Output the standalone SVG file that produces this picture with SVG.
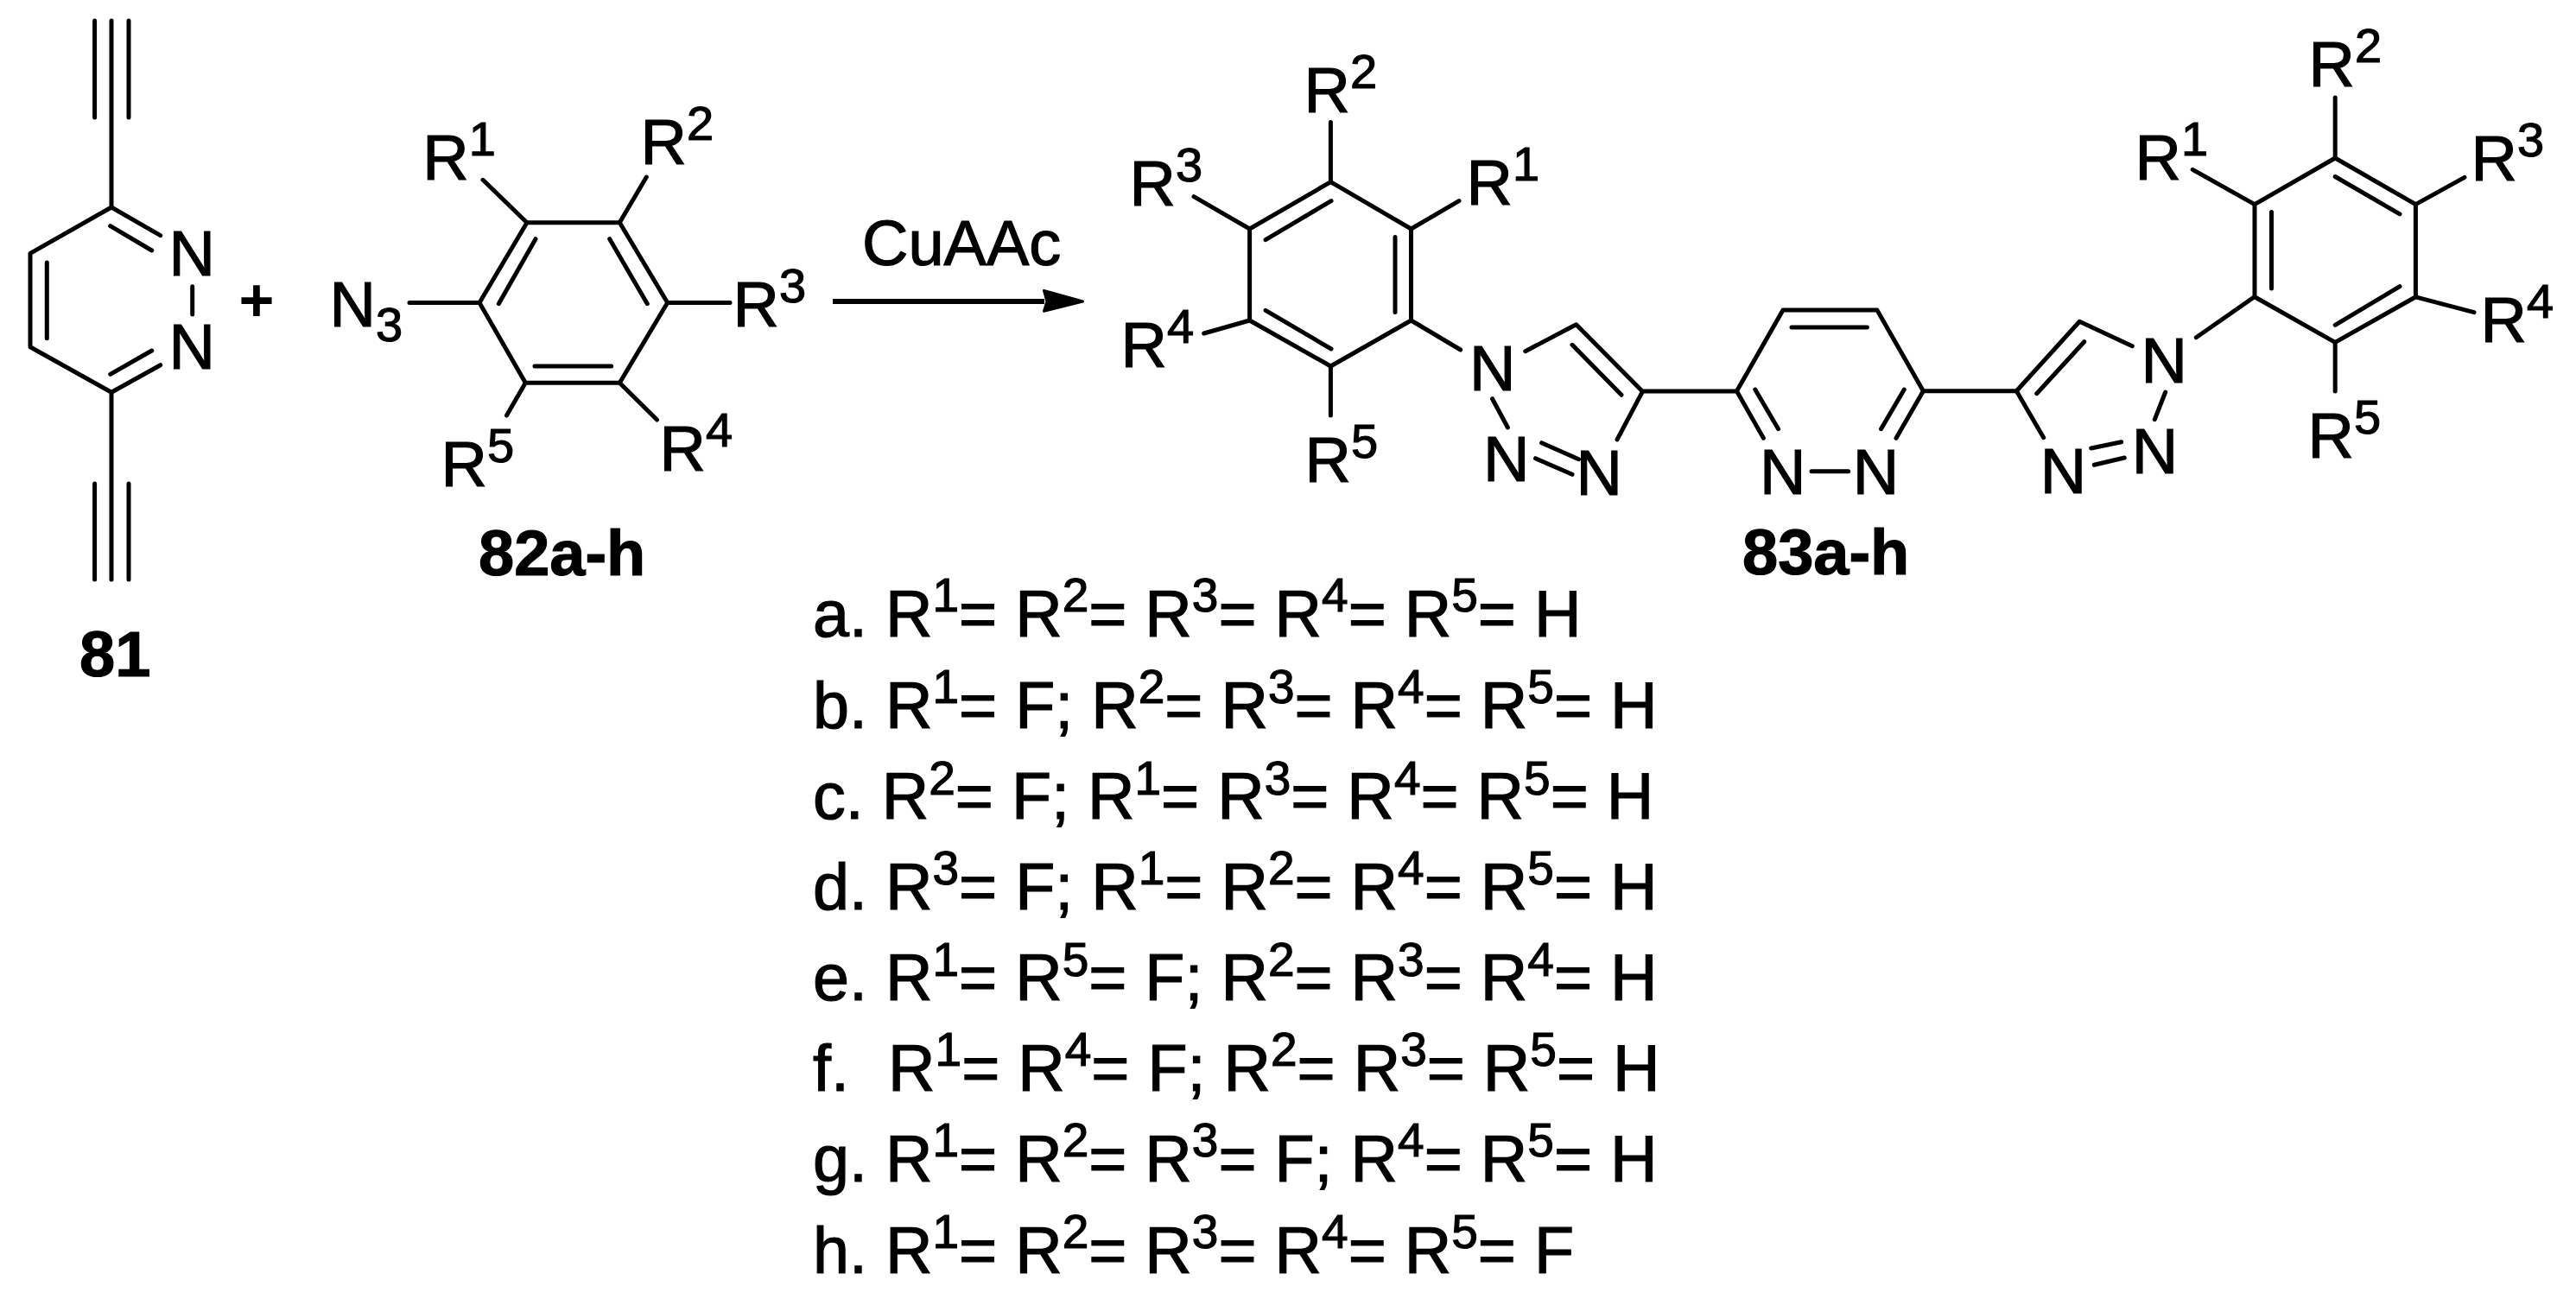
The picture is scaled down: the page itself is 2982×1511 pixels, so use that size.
<svg xmlns="http://www.w3.org/2000/svg" width="2982" height="1511" viewBox="0 0 2982 1511">
<style>
text{font-family:"Liberation Sans",Arial,sans-serif;fill:#000;stroke:#000;stroke-width:1.200}
.a{font-size:74px}
.s{font-size:56px}
.b{font-size:74px;font-weight:700}
.l{font-size:75.500px}
.u{font-size:55px}
.p{font-size:70px;font-weight:700;stroke-width:0}
path{fill:none;stroke:#000;stroke-width:5;stroke-linecap:round;stroke-linejoin:round}
.arrow{stroke-width:6;stroke-linecap:butt}
.head{fill:#000;stroke:#000;stroke-width:3}
</style>
<defs>
<marker id="ah" markerUnits="userSpaceOnUse" markerWidth="50" markerHeight="32" refX="2" refY="16" orient="auto"><path class="head" d="M1.500 3.500L46.500 16L1.500 27.200L5 16Z"/></marker>
</defs>
<rect width="2982" height="1511" fill="#fff"/>
<g id="compound-81">
<path d="M109.600 24V136M129 24V136M149 24V136M129 136V240L35 293.300V401.700L129 454.300V560M109.600 560V671M129 560V671M149 560V671"/>
<path d="M129 240L185.700 272.700M127.700 261.700L175.700 290M54.300 304V391.700M129 454.300L185.700 422.700M127.700 433.300L175.700 406M222.700 331.700V364"/>
<text class="a" x="195.500" y="319.300">N</text>
<text class="a" x="195.500" y="427">N</text>
<text class="b" x="92" y="783">81</text>
</g>
<g id="plus"><text class="p" x="297" y="371.500" text-anchor="middle">+</text></g>
<g id="compound-82">
<path d="M474 350.500H555L610 257.700H717.300L772.700 350.500L717.300 443.300H608.300L555 350.500"/>
<path d="M620 276.700L577.300 351.700M705.700 276.700L749.300 351.700M619 424H707.700M559 208.300L610 257.700M748.300 205L717.300 257.700M772.700 350.500H845M717.300 443.300L760.500 486M608.300 443.300L586.500 481"/>
<text class="a" x="381.500" y="377.500">N<tspan class="s" dy="17">3</tspan></text>
<text class="a" x="489.200" y="207.700">R<tspan class="s" dy="-28">1</tspan></text>
<text class="a" x="741.500" y="190">R<tspan class="s" dy="-28">2</tspan></text>
<text class="a" x="848.500" y="377.500">R<tspan class="s" dy="-28">3</tspan></text>
<text class="a" x="763.500" y="545">R<tspan class="s" dy="-28">4</tspan></text>
<text class="a" x="510.500" y="562.500">R<tspan class="s" dy="-28">5</tspan></text>
<text class="b" x="554" y="666">82a-h</text>
</g>
<g id="connectors">
<path class="arrow" d="M964 349H1209" marker-end="url(#ah)"/>
<text class="a" x="998" y="307">CuAAc</text>
</g>
<g id="compound-83">
<path d="M1540.400 210.700L1633.500 265V371L1540.400 424L1446.600 371V265Z"/>
<path d="M1615 274.500V361.600M1541 232.600L1465 277.700M1541 404L1465 359.400M1540.400 210.700V141.500M1633.500 265L1689 232.600M1446.600 265L1382 227.700M1446.600 371L1393.700 386M1540.400 424V481M1633.500 371L1690.700 405"/>
<path d="M1765.700 406.700L1824.600 375.700L1901.400 453.300L1872 509M1820 399.300L1877 457.300M1727.500 461.700L1745.400 495M1784.600 512.700L1827.500 531.700M1777.500 530.700L1820 549.300"/>
<path d="M1901.400 453H2010.400L2064 359H2172.900L2226.400 452.700L2195 507.300M2010.400 452.700L2041.400 507.300M2031.800 451L2058.600 496.700M2204.300 451L2177.500 496.700M2074 379H2161.400M2097 545.700H2139.600M2226.400 452.700H2334.300"/>
<path d="M2365.700 506.700L2334.300 452.700L2407.300 372.300L2468.300 400.700M2357.700 455.700L2412.700 395.700M2506.700 454L2494.300 485.700M2420.700 519L2455.700 511.700M2424.300 538.300L2459.300 530M2542.300 390.700L2610 343.500"/>
<path d="M2610 343.800V236.600L2703.200 183L2796.400 236.600V343.800L2703.200 396.400Z"/>
<path d="M2629.500 245.500V334M2703.200 204.500L2778 247.800M2703.200 376.300L2778 331.700M2703.200 183V113M2610 236.600L2538.200 196.400M2796.400 236.600L2853 205.400M2796.400 343.800L2864 361.600M2703.200 396.400V453"/>
<text class="a" x="1509.500" y="129.500">R<tspan class="s" dy="-28">2</tspan></text>
<text class="a" x="1697.500" y="236.600">R<tspan class="s" dy="-28">1</tspan></text>
<text class="a" x="1307.500" y="237.500">R<tspan class="s" dy="-28">3</tspan></text>
<text class="a" x="1297.500" y="425.400">R<tspan class="s" dy="-28">4</tspan></text>
<text class="a" x="1510.500" y="558">R<tspan class="s" dy="-28">5</tspan></text>
<text class="a" x="1701" y="451.700">N</text>
<text class="a" x="1717" y="557.300">N</text>
<text class="a" x="1824.400" y="573.300">N</text>
<text class="a" x="2037" y="571.700">N</text>
<text class="a" x="2144.800" y="571.700">N</text>
<text class="a" x="2478.400" y="442.700">N</text>
<text class="a" x="2467.700" y="548.300">N</text>
<text class="a" x="2361.700" y="571">N</text>
<text class="a" x="2672.500" y="100.400">R<tspan class="s" dy="-28">2</tspan></text>
<text class="a" x="2471.500" y="207.600">R<tspan class="s" dy="-28">1</tspan></text>
<text class="a" x="2860.500" y="209">R<tspan class="s" dy="-28">3</tspan></text>
<text class="a" x="2871.500" y="396.400">R<tspan class="s" dy="-28">4</tspan></text>
<text class="a" x="2671.500" y="530">R<tspan class="s" dy="-28">5</tspan></text>
<text class="b" x="2017" y="665">83a-h</text>
</g>
<g id="substituent-list">
<text class="l" x="941" y="736.700">a. R<tspan class="u" dy="-28.700">1</tspan><tspan dy="28.700">= R</tspan><tspan class="u" dy="-28.700">2</tspan><tspan dy="28.700">= R</tspan><tspan class="u" dy="-28.700">3</tspan><tspan dy="28.700">= R</tspan><tspan class="u" dy="-28.700">4</tspan><tspan dy="28.700">= R</tspan><tspan class="u" dy="-28.700">5</tspan><tspan dy="28.700">= H</tspan></text>
<text class="l" x="941" y="842.700">b. R<tspan class="u" dy="-28.700">1</tspan><tspan dy="28.700">= F; R</tspan><tspan class="u" dy="-28.700">2</tspan><tspan dy="28.700">= R</tspan><tspan class="u" dy="-28.700">3</tspan><tspan dy="28.700">= R</tspan><tspan class="u" dy="-28.700">4</tspan><tspan dy="28.700">= R</tspan><tspan class="u" dy="-28.700">5</tspan><tspan dy="28.700">= H</tspan></text>
<text class="l" x="941" y="948.300">c. R<tspan class="u" dy="-28.700">2</tspan><tspan dy="28.700">= F; R</tspan><tspan class="u" dy="-28.700">1</tspan><tspan dy="28.700">= R</tspan><tspan class="u" dy="-28.700">3</tspan><tspan dy="28.700">= R</tspan><tspan class="u" dy="-28.700">4</tspan><tspan dy="28.700">= R</tspan><tspan class="u" dy="-28.700">5</tspan><tspan dy="28.700">= H</tspan></text>
<text class="l" x="941" y="1052.500">d. R<tspan class="u" dy="-28.700">3</tspan><tspan dy="28.700">= F; R</tspan><tspan class="u" dy="-28.700">1</tspan><tspan dy="28.700">= R</tspan><tspan class="u" dy="-28.700">2</tspan><tspan dy="28.700">= R</tspan><tspan class="u" dy="-28.700">4</tspan><tspan dy="28.700">= R</tspan><tspan class="u" dy="-28.700">5</tspan><tspan dy="28.700">= H</tspan></text>
<text class="l" x="941" y="1158.300">e. R<tspan class="u" dy="-28.700">1</tspan><tspan dy="28.700">= R</tspan><tspan class="u" dy="-28.700">5</tspan><tspan dy="28.700">= F; R</tspan><tspan class="u" dy="-28.700">2</tspan><tspan dy="28.700">= R</tspan><tspan class="u" dy="-28.700">3</tspan><tspan dy="28.700">= R</tspan><tspan class="u" dy="-28.700">4</tspan><tspan dy="28.700">= H</tspan></text>
<text class="l" x="941" y="1262.700">f.<tspan x="1028">R</tspan><tspan class="u" dy="-28.700">1</tspan><tspan dy="28.700">= R</tspan><tspan class="u" dy="-28.700">4</tspan><tspan dy="28.700">= F; R</tspan><tspan class="u" dy="-28.700">2</tspan><tspan dy="28.700">= R</tspan><tspan class="u" dy="-28.700">3</tspan><tspan dy="28.700">= R</tspan><tspan class="u" dy="-28.700">5</tspan><tspan dy="28.700">= H</tspan></text>
<text class="l" x="941" y="1367.700">g. R<tspan class="u" dy="-28.700">1</tspan><tspan dy="28.700">= R</tspan><tspan class="u" dy="-28.700">2</tspan><tspan dy="28.700">= R</tspan><tspan class="u" dy="-28.700">3</tspan><tspan dy="28.700">= F; R</tspan><tspan class="u" dy="-28.700">4</tspan><tspan dy="28.700">= R</tspan><tspan class="u" dy="-28.700">5</tspan><tspan dy="28.700">= H</tspan></text>
<text class="l" x="941" y="1473.500">h. R<tspan class="u" dy="-28.700">1</tspan><tspan dy="28.700">= R</tspan><tspan class="u" dy="-28.700">2</tspan><tspan dy="28.700">= R</tspan><tspan class="u" dy="-28.700">3</tspan><tspan dy="28.700">= R</tspan><tspan class="u" dy="-28.700">4</tspan><tspan dy="28.700">= R</tspan><tspan class="u" dy="-28.700">5</tspan><tspan dy="28.700">= F</tspan></text>
</g>
</svg>
